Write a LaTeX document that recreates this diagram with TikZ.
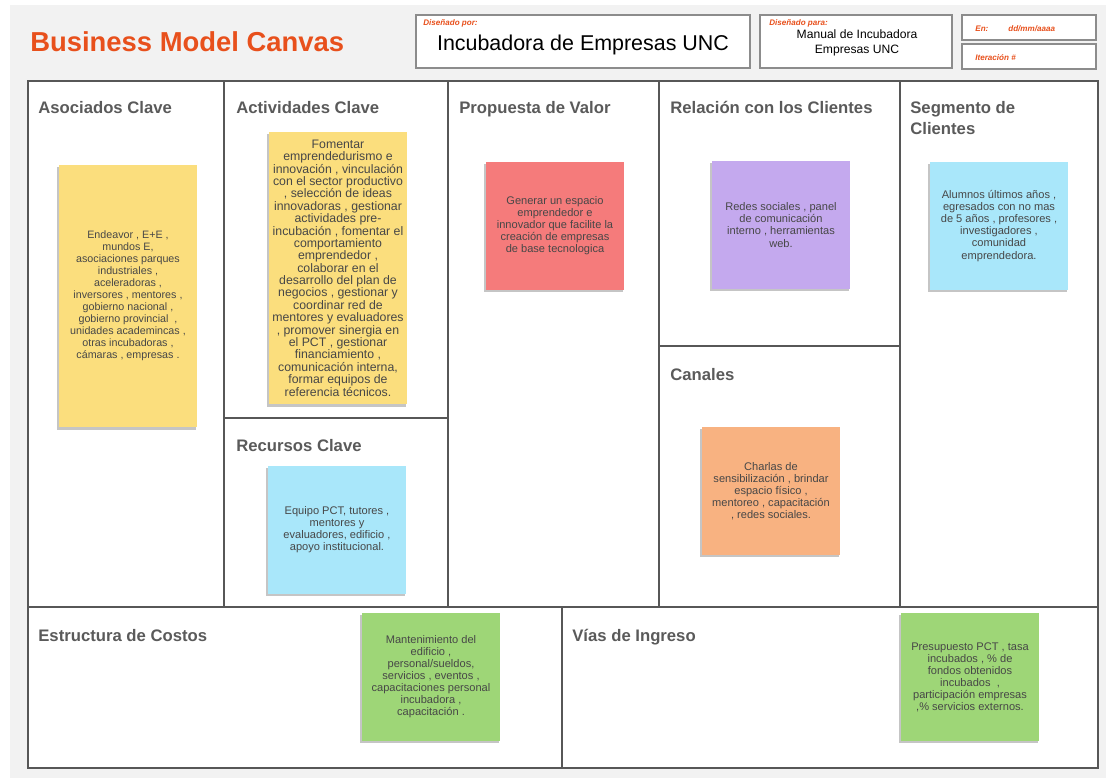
\documentclass[tikz,border=0pt]{standalone}
\usepackage{fontspec}
\setmainfont{Liberation Sans}
\usetikzlibrary{shadows}

\definecolor{bmcorange}{HTML}{E8501C}
\definecolor{bmcgray}{HTML}{5A5A5A}
\definecolor{bmcline}{HTML}{575757}
\definecolor{stYellow}{HTML}{FBDE7D}
\definecolor{stRed}{HTML}{F57B7B}
\definecolor{stPurple}{HTML}{C4A9EE}
\definecolor{stBlue}{HTML}{A9E7FA}
\definecolor{stOrange}{HTML}{F8B281}
\definecolor{stGreen}{HTML}{9ED677}

\begin{document}
\begin{tikzpicture}[x=0.02cm, y=-0.02cm,
    frame/.style={draw=bmcline, line width=1.1pt},
    hbox/.style={draw=black!45, line width=0.7pt, fill=white, drop shadow={shadow xshift=0.6pt, shadow yshift=-0.6pt, opacity=0.25}},
    head/.style={anchor=base west, inner sep=0pt, align=left, text=bmcgray, font=\fontsize{9.5}{11.9}\selectfont\bfseries},
    tag/.style={anchor=base west, inner sep=0pt, text=bmcorange, font=\fontsize{4.6}{5}\selectfont\bfseries\itshape},
    note/.style={minimum width=2.78cm, minimum height=2.56cm, inner sep=0pt, align=center, text=black!72,
        font=\fontsize{6.3}{6.85}\selectfont,
        drop shadow={shadow xshift=-0.7pt, shadow yshift=-1.4pt, opacity=0.45}}
]
% page and panel
\useasboundingbox[fill=white] (0,0) rectangle (1106,782);
\fill[black!5] (10,5) rectangle (1106,778);

% header
\node[anchor=base west, inner sep=0pt, text=bmcorange, font=\fontsize{15.6}{18}\selectfont\bfseries] (title) at (30,51) {Business Model Canvas};

\draw[hbox] (416,15) rectangle (750,68);
\draw[hbox] (760,15) rectangle (952,68);
\draw[hbox] (962,15) rectangle (1096,40);
\draw[hbox] (962,44) rectangle (1096,69);

\node[tag] (porlbl) at (423,25) {Diseñado por:};
\node[anchor=base, inner sep=0pt, font=\fontsize{12.2}{14}\selectfont] (por) at (583,50) {Incubadora de Empresas UNC};
\node[tag] (paralbl) at (769,25) {Diseñado para:};
\node[anchor=base, inner sep=0pt, align=center, font=\fontsize{6.9}{8.5}\selectfont] (para) at (857,53) {Manual de Incubadora\\Empresas UNC};
\node[tag] (enlbl) at (975,31) {En:};
\node[tag] (fecha) at (1008,31) {dd/mm/aaaa};
\node[tag] (iter) at (975,60) {Iteración \#};

% canvas
\fill[white, drop shadow={shadow xshift=0.8pt, shadow yshift=-0.8pt, opacity=0.3}] (28,81) rectangle (1098,768);
\draw[frame, line width=1.5pt] (28,81) rectangle (1098,768);
\draw[frame] (224,81) -- (224,607);
\draw[frame] (448,81) -- (448,607);
\draw[frame] (659,81) -- (659,607);
\draw[frame] (900,81) -- (900,607);
\draw[frame] (28,607) -- (1098,607);
\draw[frame] (224,418) -- (448,418);
\draw[frame] (659,346) -- (900,346);
\draw[frame] (562,607) -- (562,768);

% block titles
\node[head] (hasoc) at (38,113) {Asociados Clave};
\node[head] (hactiv) at (236,113) {Actividades Clave};
\node[head] (hprop) at (459,113) {Propuesta de Valor};
\node[head] (hrel) at (670,113) {Relación con los Clientes};
\node[head] (hseg) at (910,134) {Segmento de\\Clientes};
\node[head] (hcan) at (670,380) {Canales};
\node[head] (hrec) at (236,451) {Recursos Clave};
\node[head] (hcost) at (38,641) {Estructura de Costos};
\node[head] (hing) at (572,641) {Vías de Ingreso};

% sticky notes
\node[note, fill=stYellow, minimum height=5.26cm, font=\fontsize{6.1}{6.85}\selectfont] (asoc) at (128,296) {Endeavor , E+E ,\\mundos E,\\asociaciones parques\\industriales ,\\aceleradoras ,\\inversores , mentores ,\\gobierno nacional ,\\gobierno provincial\ \ ,\\unidades academincas ,\\otras incubadoras ,\\cámaras , empresas .};
\node[note, fill=stYellow, minimum height=5.46cm, font=\fontsize{7}{7.05}\selectfont] (activ) at (338,268) {Fomentar\\emprendedurismo e\\innovación , vinculación\\con el sector productivo\\, selección de ideas\\innovadoras , gestionar\\actividades pre-\\incubación , fomentar el\\comportamiento\\emprendedor ,\\colaborar en el\\desarrollo del plan de\\negocios , gestionar y\\coordinar red de\\mentores y evaluadores\\, promover sinergia en\\el PCT , gestionar\\financiamiento ,\\comunicación interna,\\formar equipos de\\referencia técnicos.};
\node[note, fill=stRed] (prop) at (555,226) {Generar un espacio\\emprendedor e\\innovador que facilite la\\creación de empresas\\de base tecnologica};
\node[note, fill=stPurple] (rel) at (781,225) {Redes sociales , panel\\de comunicación\\interno , herramientas\\web.};
\node[note, fill=stBlue] (seg) at (999,226) {Alumnos últimos años ,\\egresados con no mas\\de 5 años , profesores ,\\investigadores ,\\comunidad\\emprendedora.};
\node[note, fill=stOrange] (can) at (771,491) {Charlas de\\sensibilización , brindar\\espacio físico ,\\mentoreo , capacitación\\, redes sociales.};
\node[note, fill=stBlue] (rec) at (337,530) {Equipo PCT, tutores ,\\mentores y\\evaluadores, edificio ,\\apoyo institucional.};
\node[note, fill=stGreen] (cost) at (431,677) {Mantenimiento del\\edificio ,\\personal/sueldos,\\servicios , eventos ,\\capacitaciones personal\\incubadora ,\\capacitación .};
\node[note, fill=stGreen] (ing) at (970,677) {Presupuesto PCT , tasa\\incubados , \% de\\fondos obtenidos\\incubados\ \ ,\\participación empresas\\,\% servicios externos.};
\end{tikzpicture}
\end{document}
